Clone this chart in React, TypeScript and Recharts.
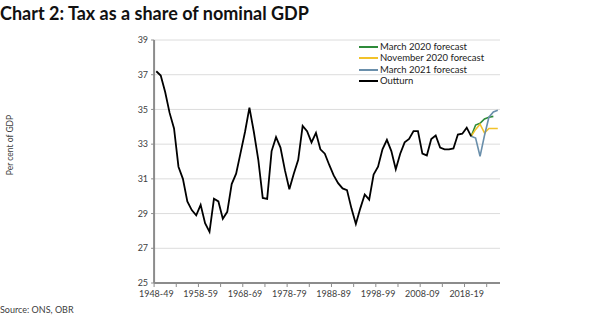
import React from 'react';
import { LineChart, Line, XAxis, YAxis, CartesianGrid, Legend } from 'recharts';

// Fiscal years 1948-49 .. 2025-26
const firstYear = 1948;
const categories = Array.from({ length: 78 }, (_, i) => {
    const y = firstYear + i;
    return `${y}-${String((y + 1) % 100).padStart(2, '0')}`;
});

// Outturn, 1948-49 .. 2019-20 (per cent of GDP)
const outturn = [
    37.2, 36.95, 36.0, 34.8, 33.9, 31.7, 31.0, 29.7, 29.2, 28.9,
    29.5, 28.45, 27.95, 29.85, 29.7, 28.7, 29.1, 30.7, 31.3, 32.5,
    33.7, 35.1, 33.7, 32.1, 29.9, 29.85, 32.6, 33.4, 32.8, 31.5,
    30.4, 31.3, 32.1, 34.05, 33.75, 33.1, 33.65, 32.7, 32.45, 31.8,
    31.2, 30.75, 30.45, 30.35, 29.3, 28.4, 29.3, 30.1, 29.8, 31.25,
    31.7, 32.7, 33.25, 32.6, 31.55, 32.45, 33.1, 33.3, 33.75, 33.75,
    32.45, 32.35, 33.3, 33.5, 32.8, 32.7, 32.7, 32.75, 33.55, 33.6,
    33.95, 33.45,
];

// forecasts start at 2019-20
const forecastStart = 71;
const march2020 = [33.45, 34.1, 34.2, 34.45, 34.55, 34.6];
const november2020 = [33.45, 33.85, 34.15, 33.65, 33.9, 33.9, 33.9];
const march2021 = [33.45, 33.35, 32.3, 33.5, 34.55, 34.85, 34.95];

const seriesNames = ['March 2020 forecast', 'November 2020 forecast', 'March 2021 forecast', 'Outturn'];
const yTicks = [25, 27, 29, 31, 33, 35, 37, 39];
const labelEvery = 10;
const tickEvery = 5;

const pick = (arr: number[], i: number) => {
    const k = i - forecastStart;
    return k >= 0 && k < arr.length ? arr[k] : null;
};

const data = categories.map((year, i) => ({
    idx: i,
    year,
    outturn: i < outturn.length ? outturn[i] : null,
    march2020: pick(march2020, i),
    november2020: pick(november2020, i),
    march2021: pick(march2021, i),
}));

const labelTicks = categories.map((_, i) => i).filter(i => i % labelEvery === 0 && i < 75);
const markTicks = categories.map((_, i) => i - 0.5).filter(v => (v + 0.5) % tickEvery === 0);
const xTicks = [...markTicks, ...labelTicks].sort((a, b) => a - b);

const font = 'Lato, "DejaVu Sans", sans-serif';
const textColor = '#404040';
const axisColor = '#8c8c8c';

function XTick(props: any) {
    const { x, y, payload } = props;
    const v = payload.value;
    if (Number.isInteger(v)) {
        return (
            <text x={x} y={y + 14} textAnchor="middle" fontSize={9} fill={textColor} fontFamily={font}>
                {categories[v]}
            </text>
        );
    }
    return <line x1={x} x2={x} y1={y} y2={y + 4} stroke={axisColor} strokeWidth={1} />;
}

function LegendBox({ payload }: any) {
    // keep the order of the original legend, not alphabetical
    const items = [...(payload || [])].sort((a: any, b: any) => seriesNames.indexOf(a.value) - seriesNames.indexOf(b.value));
    return (
        <div style={{ fontFamily: font, fontSize: 9.5, color: '#222', lineHeight: '11.4px' }}>
            {items.map((p: any) => (
                <div key={p.value} style={{ display: 'flex', alignItems: 'center' }}>
                    <span style={{ display: 'inline-block', width: 19, height: 2, background: p.color, marginRight: 2 }} />
                    <span>{p.value}</span>
                </div>
            ))}
        </div>
    );
}

export default function App() {
    return (
        <div style={{ position: 'absolute', left: 0, top: 0, width: 602, height: 326, background: '#fff', overflow: 'hidden' }}>
            <div style={{ position: 'absolute', left: 0, top: 2, fontFamily: font, fontWeight: 700, fontSize: 18, color: '#111', whiteSpace: 'nowrap' }}>
                Chart 2: Tax as a share of nominal GDP
            </div>
            <div style={{ position: 'absolute', left: 10, top: 145, transform: 'translate(-50%, -50%) rotate(-90deg)', fontFamily: font, fontSize: 8.5, color: textColor, whiteSpace: 'nowrap' }}>
                Per cent of GDP
            </div>
            <div style={{ position: 'absolute', left: 0, top: 304, fontFamily: font, fontSize: 9, color: textColor, whiteSpace: 'nowrap' }}>
                Source: ONS, OBR
            </div>
            <div style={{ position: 'absolute', left: 0, top: 0 }}>
                <LineChart width={602} height={326} data={data} margin={{ top: 40, right: 102, bottom: 0, left: 0 }}>
                    <CartesianGrid horizontal vertical={false} stroke="#dcdcdc" strokeWidth={1} />
                    <XAxis
                        dataKey="idx"
                        type="number"
                        domain={[-0.5, 77.5]}
                        ticks={xTicks}
                        interval={0}
                        height={43}
                        tick={<XTick />}
                        tickLine={false}
                        tickSize={0}
                        tickMargin={0}
                        axisLine={{ stroke: axisColor, strokeWidth: 2 }}
                        allowDataOverflow
                    />
                    <YAxis
                        domain={[25, 39]}
                        ticks={yTicks}
                        interval={0}
                        width={29}
                        tickSize={3}
                        tickMargin={3}
                        tick={{ fontSize: 9, fill: textColor, fontFamily: font }}
                        tickLine={{ stroke: axisColor }}
                        axisLine={{ stroke: axisColor, strokeWidth: 2 }}
                    />
                    <Legend
                        layout="vertical"
                        verticalAlign="top"
                        align="left"
                        content={<LegendBox />}
                        wrapperStyle={{ left: 359, top: 41, width: 'auto' }}
                    />
                    <Line dataKey="march2020" name="March 2020 forecast" stroke="#2e8b3a" strokeWidth={1.6} dot={false} isAnimationActive={false} />
                    <Line dataKey="november2020" name="November 2020 forecast" stroke="#f2c22a" strokeWidth={1.6} dot={false} isAnimationActive={false} />
                    <Line dataKey="march2021" name="March 2021 forecast" stroke="#6a8fab" strokeWidth={1.6} dot={false} isAnimationActive={false} />
                    <Line dataKey="outturn" name="Outturn" stroke="#000" strokeWidth={1.8} dot={false} isAnimationActive={false} />
                </LineChart>
            </div>
        </div>
    );
}
